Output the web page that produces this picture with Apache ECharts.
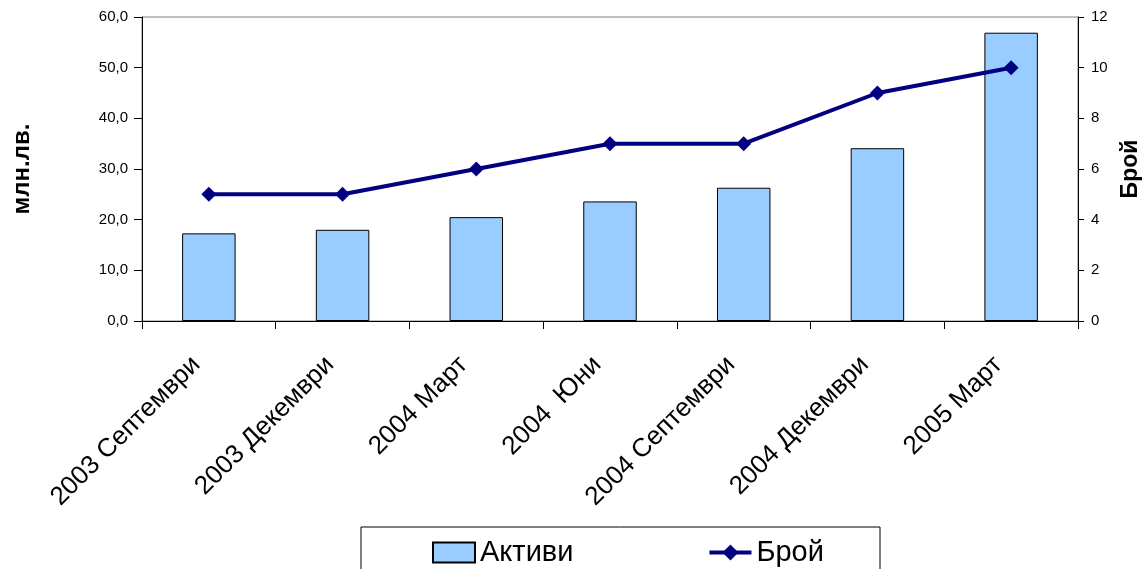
<!DOCTYPE html>
<html>
<head>
<meta charset="utf-8">
<script src="https://cdn.jsdelivr.net/npm/echarts@6/dist/echarts.min.js"></script>
<style>html,body{margin:0;padding:0;background:#fff;}#c{width:1148px;height:569px;}</style>
</head>
<body>
<div id="c"></div>
<script>
const categories = ['2003 Септември','2003 Декември','2004 Март','2004  Юни','2004 Септември','2004 Декември','2005 Март'];
const aktivi = [17.3, 18.0, 20.5, 23.6, 26.3, 34.1, 56.9];
const broy = [5, 5, 6, 7, 7, 9, 10];
const leftTitle = 'млн.лв.';
const rightTitle = 'Брой';

const chart = echarts.init(document.getElementById('c'));
const font = 'Arial, "Liberation Sans", sans-serif';
chart.setOption({
  animation: false,
  textStyle: {fontFamily: font},
  grid: {left: 142, right: 70, top: 17, bottom: 248, containLabel: false, outerBoundsMode: 'none',
         show: true, borderColor: '#808080', borderWidth: 1, backgroundColor: 'transparent'},
  graphic: [{type: 'rect', shape: {x: 361, y: 527, width: 519, height: 60}, style: {fill: 'none', stroke: '#000', lineWidth: 1}, z: 0}],
  legend: {
    left: 432, top: 538, padding: 0, itemWidth: 42, itemHeight: 20, itemGap: 134,
    textStyle: {fontSize: 29, color: '#000', fontFamily: font},
    lineStyle: {width: 4},
    data: [{name: 'Активи', icon: 'rect'}, {name: 'Брой'}]
  },
  xAxis: {
    type: 'category', data: categories,
    axisLine: {lineStyle: {color: '#000', width: 1}},
    axisTick: {show: true, length: 8, lineStyle: {color: '#000'}},
    axisLabel: {rotate: 45, fontSize: 26, color: '#000', margin: 27, padding: [0, 18, 0, 0], interval: 0}
  },
  yAxis: [{
    type: 'value', min: 0, max: 60, interval: 10,
    name: leftTitle, nameLocation: 'middle', nameRotate: 90, nameGap: 108,
    nameTextStyle: {fontSize: 24, fontWeight: 'bold', color: '#000'},
    axisLine: {show: true, lineStyle: {color: '#000'}},
    axisTick: {show: true, length: 8, lineStyle: {color: '#000'}},
    axisLabel: {fontSize: 15, color: '#000', margin: 14, formatter: v => v.toFixed(1).replace('.', ',')},
    splitLine: {show: false}
  }, {
    type: 'value', min: 0, max: 12, interval: 2, position: 'right',
    name: rightTitle, nameLocation: 'middle', nameRotate: 90, nameGap: 41,
    nameTextStyle: {fontSize: 23, fontWeight: 'bold', color: '#000'},
    axisLine: {show: true, lineStyle: {color: '#000'}},
    axisTick: {show: true, length: 6, lineStyle: {color: '#000'}},
    axisLabel: {fontSize: 15, color: '#000', margin: 13},
    splitLine: {show: false}
  }],
  series: [{
    name: 'Активи', type: 'bar', data: aktivi, barWidth: '40%',
    itemStyle: {color: '#99CCFF', borderColor: '#000', borderWidth: 1}
  }, {
    name: 'Брой', type: 'line', yAxisIndex: 1, data: broy,
    symbol: 'diamond', symbolSize: 15,
    lineStyle: {color: '#000080', width: 4},
    itemStyle: {color: '#000080'}
  }]
});
</script>
</body>
</html>
